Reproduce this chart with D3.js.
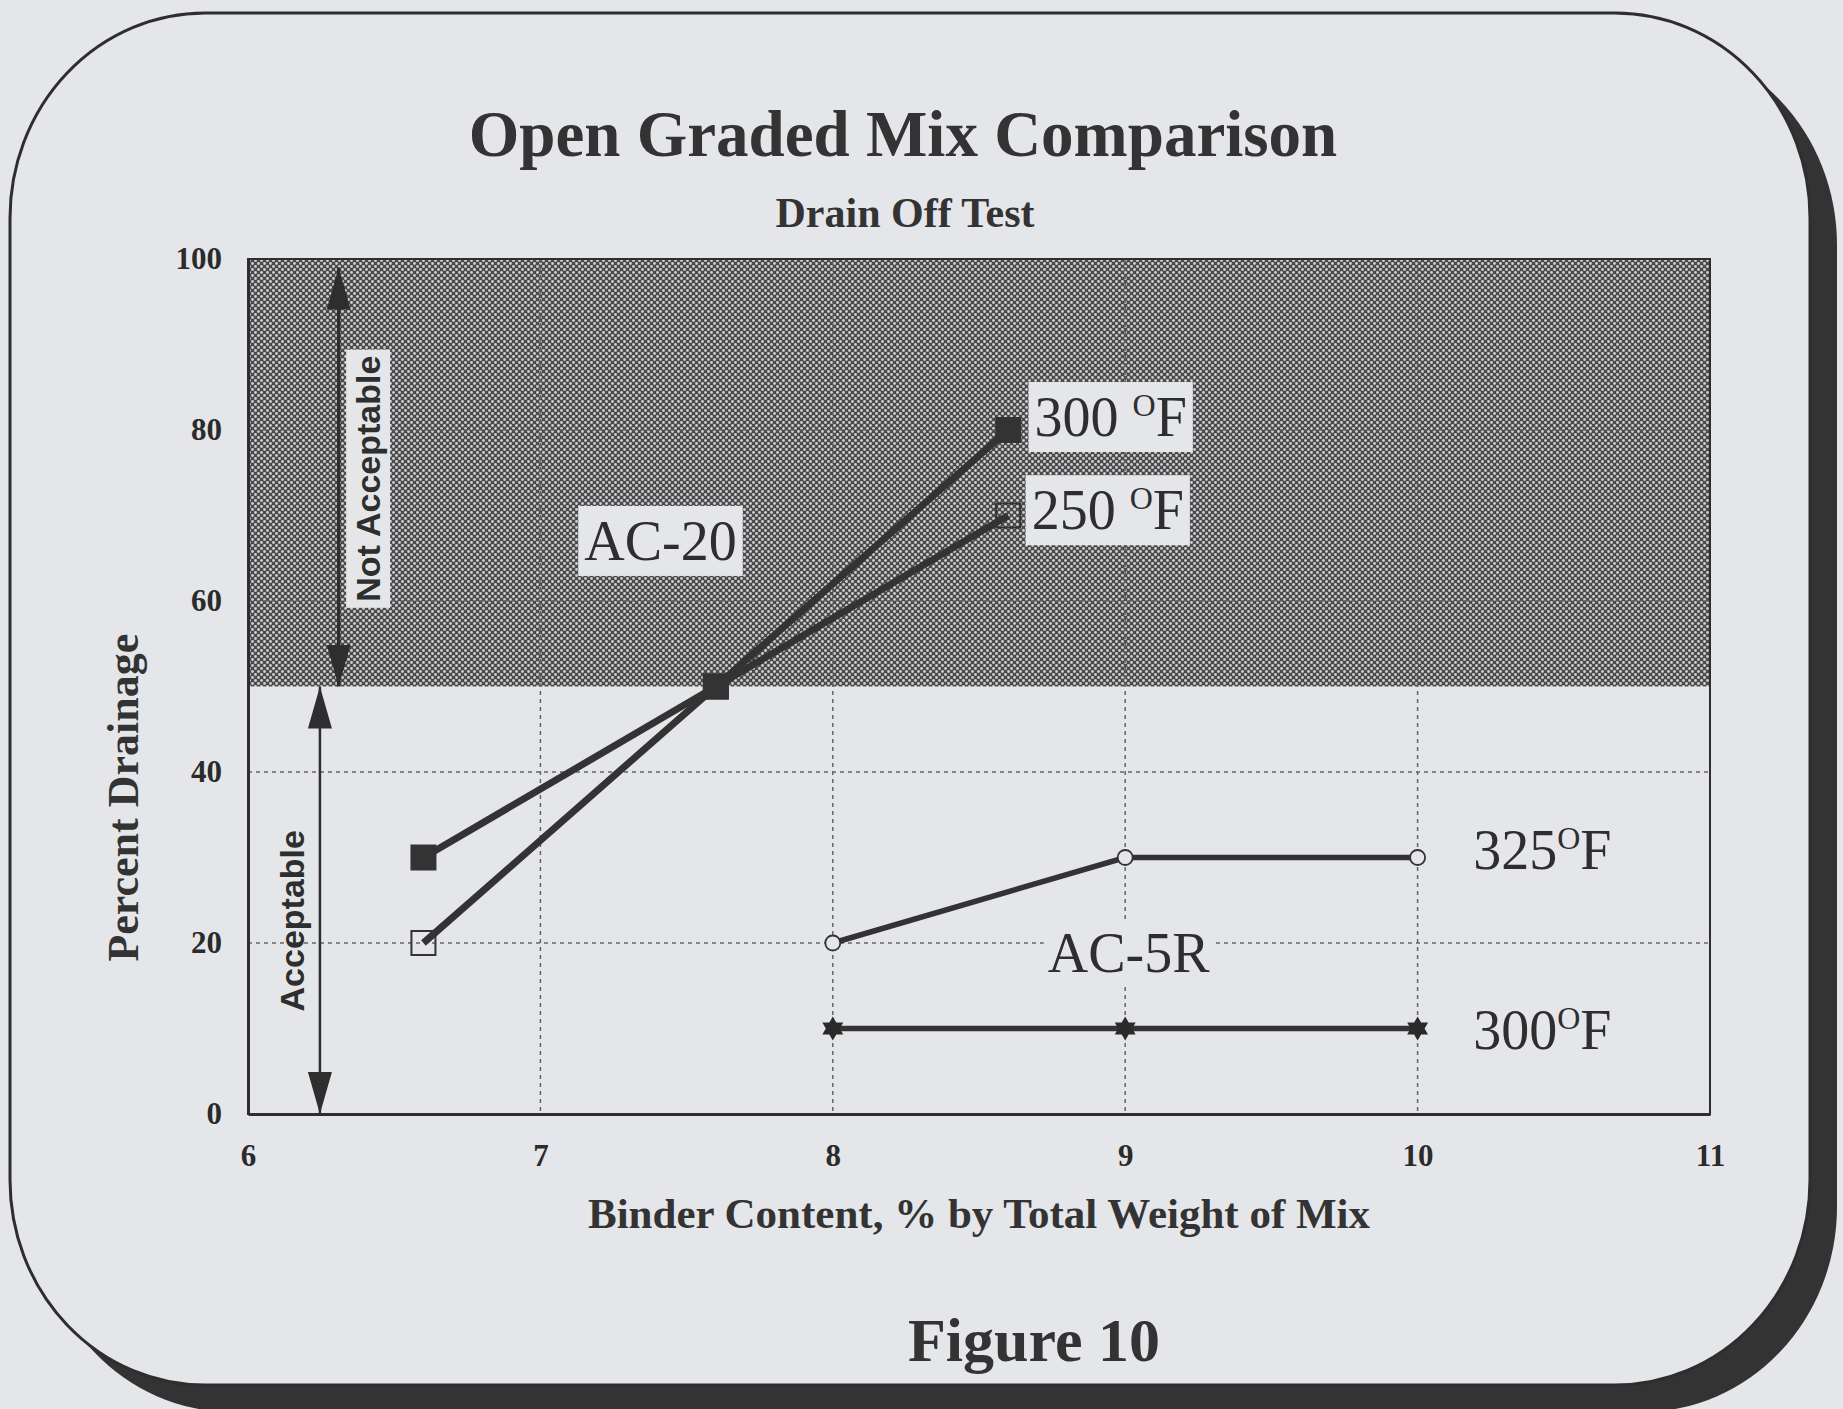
<!DOCTYPE html>
<html>
<head>
<meta charset="utf-8">
<script src="https://cdn.jsdelivr.net/npm/d3@7"></script>
<style>
  body { margin: 0; background: #e5e6e9; }
  .chart svg { display: block; }
  .tick text { font-family: "Liberation Serif", "Times New Roman", serif; font-weight: bold; fill: #2b2b2b; }
</style>
</head>
<body>
<div class="chart"></div>
<script>
var svgWidth = 1843;
var svgHeight = 1409;

var margin = {
  top: 259,
  right: 133,
  bottom: 295,
  left: 248
};

var width = svgWidth - margin.left - margin.right;
var height = svgHeight - margin.top - margin.bottom;

// chart values
var xTicks = [6, 7, 8, 9, 10, 11];
var yTicks = [0, 20, 40, 60, 80, 100];
var gridX = [7, 8, 9, 10];
var gridY = [20, 40, 60, 80];

var ac20Binder = [6.6, 7.6, 8.6];
var ac20At300 = [30, 50, 80];
var ac20At250 = [20, 50, 70];

var ac5rBinder = [8, 9, 10];
var ac5rAt325 = [20, 30, 30];
var ac5rAt300 = [10, 10, 10];

var drainLimit = 50;

var ink = "#2e2e2e";
var paper = "#e5e6e9";
var serif = "'Liberation Serif', 'Times New Roman', serif";
var sans = "'Liberation Sans', Arial, sans-serif";

var svg = d3
  .select(".chart")
  .append("svg")
  .attr("width", svgWidth)
  .attr("height", svgHeight);

var defs = svg.append("defs");

// halftone pattern for the not acceptable zone
var pat = defs.append("pattern")
  .attr("id", "halftone")
  .attr("patternUnits", "userSpaceOnUse")
  .attr("width", 6)
  .attr("height", 6);
pat.append("rect").attr("width", 6).attr("height", 6).attr("fill", "#4b4b4b");
pat.append("circle").attr("cx", 1.5).attr("cy", 1.5).attr("r", 1.4).attr("fill", "#d0d0d3");
pat.append("circle").attr("cx", 4.5).attr("cy", 4.5).attr("r", 1.4).attr("fill", "#d0d0d3");

defs.append("marker")
  .attr("id", "arrowHead")
  .attr("viewBox", "0 0 42 24")
  .attr("refX", 42)
  .attr("refY", 12)
  .attr("markerWidth", 42)
  .attr("markerHeight", 24)
  .attr("markerUnits", "userSpaceOnUse")
  .attr("orient", "auto-start-reverse")
  .append("path")
  .attr("d", "M0,0 L42,12 L0,24 Z")
  .attr("fill", ink);

// frame with drop shadow
svg.append("rect")
  .attr("x", 37).attr("y", 40)
  .attr("width", 1800).attr("height", 1372)
  .attr("rx", 195).attr("ry", 205)
  .attr("fill", "#333");

svg.append("rect")
  .attr("x", 10).attr("y", 13)
  .attr("width", 1800).attr("height", 1372)
  .attr("rx", 195).attr("ry", 205)
  .attr("fill", paper)
  .attr("stroke", ink)
  .attr("stroke-width", 3);

var chartGroup = svg.append("g")
  .attr("transform", `translate(${margin.left}, ${margin.top})`);

var xScale = d3.scaleLinear().domain([6, 11]).range([0, width]);
var yScale = d3.scaleLinear().domain([0, 100]).range([height, 0]);

// zones
chartGroup.append("rect")
  .attr("width", width)
  .attr("height", height)
  .attr("fill", paper);

chartGroup.append("rect")
  .attr("x", 0)
  .attr("y", yScale(100))
  .attr("width", width)
  .attr("height", yScale(drainLimit) - yScale(100))
  .attr("fill", "url(#halftone)");

// dotted grid
chartGroup.selectAll(".gx")
  .data(gridX)
  .enter()
  .append("line")
  .attr("x1", d => xScale(d)).attr("x2", d => xScale(d))
  .attr("y1", 0).attr("y2", height)
  .attr("stroke", "#666")
  .attr("stroke-width", 1.5)
  .attr("stroke-dasharray", "4,4");

chartGroup.selectAll(".gy")
  .data(gridY)
  .enter()
  .append("line")
  .attr("x1", 0).attr("x2", width)
  .attr("y1", d => yScale(d)).attr("y2", d => yScale(d))
  .attr("stroke", "#666")
  .attr("stroke-width", 1.5)
  .attr("stroke-dasharray", "4,4");

// plot border
chartGroup.append("rect")
  .attr("width", width)
  .attr("height", height)
  .attr("fill", "none")
  .attr("stroke", ink)
  .attr("stroke-width", 2);

// axes
var bottomAxis = d3.axisBottom(xScale).tickValues(xTicks).tickFormat(d3.format("d")).tickSize(0).tickPadding(30);
var leftAxis = d3.axisLeft(yScale).tickValues(yTicks).tickFormat(d3.format("d")).tickSize(0).tickPadding(26);

var xAxis = chartGroup.append("g")
  .attr("transform", `translate(0, ${height})`)
  .call(bottomAxis);
xAxis.selectAll("text").style("font-size", "31px").attr("dy", "0.71em");
xAxis.select(".domain").attr("stroke", ink).attr("stroke-width", 3);

var yAxis = chartGroup.append("g").call(leftAxis);
yAxis.selectAll("text").style("font-size", "31px");
yAxis.select(".domain").attr("stroke", ink).attr("stroke-width", 3);

// acceptable / not acceptable arrows
chartGroup.append("line")
  .attr("x1", xScale(6.31)).attr("x2", xScale(6.31))
  .attr("y1", yScale(99)).attr("y2", yScale(drainLimit))
  .attr("stroke", ink)
  .attr("stroke-width", 3.5)
  .attr("marker-start", "url(#arrowHead)")
  .attr("marker-end", "url(#arrowHead)");

chartGroup.append("line")
  .attr("x1", xScale(6.246)).attr("x2", xScale(6.246))
  .attr("y1", yScale(drainLimit)).attr("y2", yScale(0))
  .attr("stroke", ink)
  .attr("stroke-width", 2.5)
  .attr("marker-start", "url(#arrowHead)")
  .attr("marker-end", "url(#arrowHead)");

// text with a paper box behind it
function boxedText(g, pad) {
  var bb = g.node().getBBox();
  g.insert("rect", ":first-child")
    .attr("x", bb.x - pad[0]).attr("y", bb.y - pad[1])
    .attr("width", bb.width + pad[0] * 2)
    .attr("height", bb.height + pad[1] * 2)
    .attr("fill", paper);
}

var notAcc = chartGroup.append("g")
  .attr("transform", `translate(${xScale(6.41)}, ${yScale(74.3)}) rotate(-90)`);
notAcc.append("text")
  .attr("text-anchor", "middle")
  .attr("dy", "0.36em")
  .style("font-family", sans)
  .style("font-weight", "bold")
  .style("font-size", "34px")
  .attr("fill", ink)
  .text("Not Acceptable");
boxedText(notAcc, [6, 3]);

chartGroup.append("g")
  .attr("transform", `translate(${xScale(6.15)}, ${yScale(22.6)}) rotate(-90)`)
  .append("text")
  .attr("text-anchor", "middle")
  .attr("dy", "0.36em")
  .style("font-family", sans)
  .style("font-weight", "bold")
  .style("font-size", "34px")
  .attr("fill", ink)
  .text("Acceptable");

// series labels
function degLabel(x, y, num, gap, boxed) {
  var g = chartGroup.append("g");
  var t = g.append("text")
    .attr("x", xScale(x))
    .attr("y", yScale(y))
    .style("font-family", serif)
    .style("font-size", "56px")
    .attr("fill", ink);
  t.append("tspan").text(num + (gap ? " " : ""));
  t.append("tspan").attr("dy", -20).style("font-size", "32px").text("O");
  t.append("tspan").attr("dy", 20).text("F");
  if (boxed) boxedText(g, [6, 4]);
  return g;
}

degLabel(8.69, 79.3, "300", true, true);
degLabel(8.68, 68.4, "250", true, true);
degLabel(10.19, 28.6, "325", false, false);
degLabel(10.19, 7.6, "300", false, false);

var ac20 = chartGroup.append("g");
ac20.append("text")
  .attr("x", xScale(7.15))
  .attr("y", yScale(64.8))
  .style("font-family", serif)
  .style("font-size", "56px")
  .attr("fill", ink)
  .text("AC-20");
boxedText(ac20, [6, 4]);

var ac5r = chartGroup.append("g");
ac5r.append("text")
  .attr("x", xScale(8.735))
  .attr("y", yScale(16.6))
  .style("font-family", serif)
  .style("font-size", "56px")
  .attr("fill", ink)
  .text("AC-5R");
boxedText(ac5r, [4, 0]);

// series lines
var line = d3.line()
  .x(d => xScale(d[0]))
  .y(d => yScale(d[1]));

var s300 = ac20Binder.map((b, i) => [b, ac20At300[i]]);
var s250 = ac20Binder.map((b, i) => [b, ac20At250[i]]);
var s325r = ac5rBinder.map((b, i) => [b, ac5rAt325[i]]);
var s300r = ac5rBinder.map((b, i) => [b, ac5rAt300[i]]);

[s250, s300].forEach(s => {
  chartGroup.append("path")
    .datum(s)
    .attr("d", line)
    .attr("fill", "none")
    .attr("stroke", "#333")
    .attr("stroke-width", 7);
});

[s325r, s300r].forEach(s => {
  chartGroup.append("path")
    .datum(s)
    .attr("d", line)
    .attr("fill", "none")
    .attr("stroke", "#333")
    .attr("stroke-width", 5.5);
});

// six pointed star marker
var symbolHexagram = {
  draw: function(context, size) {
    var r = Math.sqrt(size) * 0.62;
    var ri = r / Math.sqrt(3);
    for (var i = 0; i < 12; i++) {
      var a = Math.PI / 6 * i - Math.PI / 2;
      var rr = i % 2 ? ri : r;
      if (i === 0) context.moveTo(rr * Math.cos(a), rr * Math.sin(a));
      else context.lineTo(rr * Math.cos(a), rr * Math.sin(a));
    }
    context.closePath();
  }
};

chartGroup.selectAll(".open-sq")
  .data(s250)
  .enter()
  .append("rect")
  .attr("x", d => xScale(d[0]) - 12)
  .attr("y", d => yScale(d[1]) - 12)
  .attr("width", 24).attr("height", 24)
  .attr("fill", "none")
  .attr("stroke", "#333")
  .attr("stroke-width", 2);

chartGroup.selectAll(".filled-sq")
  .data(s300)
  .enter()
  .append("rect")
  .attr("x", d => xScale(d[0]) - 13)
  .attr("y", d => yScale(d[1]) - 13)
  .attr("width", 26).attr("height", 26)
  .attr("fill", "#333");

chartGroup.selectAll(".circ")
  .data(s325r)
  .enter()
  .append("circle")
  .attr("cx", d => xScale(d[0]))
  .attr("cy", d => yScale(d[1]))
  .attr("r", 7.5)
  .attr("fill", paper)
  .attr("stroke", "#333")
  .attr("stroke-width", 1.8);

chartGroup.selectAll(".star")
  .data(s300r)
  .enter()
  .append("path")
  .attr("transform", d => `translate(${xScale(d[0])}, ${yScale(d[1])})`)
  .attr("d", d3.symbol().type(symbolHexagram).size(380))
  .attr("fill", "#2a2a2a");

// titles
svg.append("text")
  .attr("x", 903).attr("y", 156)
  .attr("text-anchor", "middle")
  .style("font-family", serif)
  .style("font-weight", "bold")
  .style("font-size", "65px")
  .attr("fill", "#333")
  .text("Open Graded Mix Comparison");

svg.append("text")
  .attr("x", 905).attr("y", 227)
  .attr("text-anchor", "middle")
  .style("font-family", serif)
  .style("font-weight", "bold")
  .style("font-size", "42px")
  .attr("fill", "#333")
  .text("Drain Off Test");

chartGroup.append("text")
  .attr("transform", `translate(${width / 2}, ${height + 114})`)
  .attr("text-anchor", "middle")
  .style("font-family", serif)
  .style("font-weight", "bold")
  .style("font-size", "43px")
  .attr("fill", "#333")
  .text("Binder Content, % by Total Weight of Mix");

chartGroup.append("text")
  .attr("transform", "rotate(-90)")
  .attr("x", 0 - (yScale(37)))
  .attr("y", 0 - margin.left + 138)
  .attr("text-anchor", "middle")
  .style("font-family", serif)
  .style("font-weight", "bold")
  .style("font-size", "44px")
  .attr("fill", "#333")
  .text("Percent Drainage");

svg.append("text")
  .attr("x", 1034).attr("y", 1361)
  .attr("text-anchor", "middle")
  .style("font-family", serif)
  .style("font-weight", "bold")
  .style("font-size", "62px")
  .attr("fill", "#333")
  .text("Figure 10");
</script>
</body>
</html>
